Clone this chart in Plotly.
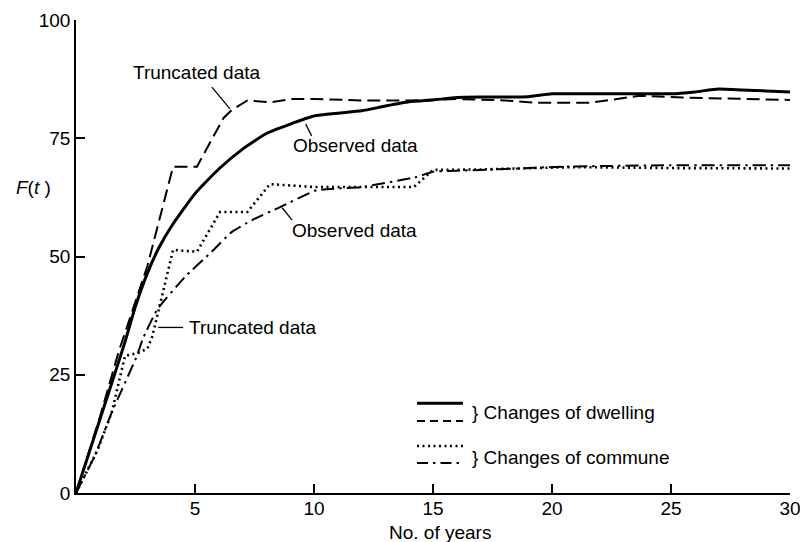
import plotly.graph_objects as go

# ---- data ----
# Changes of dwelling, observed (solid)
dw_obs_x = [0, 1, 2, 2.5, 3, 3.5, 4, 5, 6, 7, 8, 9, 10, 11, 12, 13, 14, 15, 16, 17, 18, 19, 20, 21, 22, 23, 24, 25, 26, 27, 28, 29, 30]
dw_obs_y = [0, 15.5, 31, 39.5, 46.5, 52, 56.3, 63.3, 68.5, 72.7, 76, 78, 79.7, 80.3, 80.8, 81.8, 82.7, 83.1, 83.6, 83.7, 83.7, 83.8, 84.4, 84.4, 84.4, 84.4, 84.4, 84.4, 84.8, 85.4, 85.2, 85.0, 84.8]

# Changes of dwelling, truncated (dashed)
dw_tr_x = [0, 1, 1.8, 3, 4.08, 5.08, 6.2, 6.55, 7.2, 8.2, 9.1, 10, 12, 14, 16, 18, 19.4, 21.6, 23.7, 25.5, 30]
dw_tr_y = [0, 16, 30, 48, 69, 69, 79.3, 81, 83, 82.6, 83.3, 83.3, 83, 83, 83.3, 83, 82.5, 82.5, 84, 83.6, 83.1]

# Changes of commune, truncated (dotted)
cm_tr_x = [0, 0.9, 1.5, 2.06, 2.6, 3.0, 3.2, 3.66, 4.08, 5.08, 6.05, 7.2, 8.15, 10, 12, 14.2, 15, 17, 20, 21, 25, 30]
cm_tr_y = [0, 9, 17, 29, 29.6, 30.5, 33, 42.3, 51.4, 51, 59.4, 59.4, 65.3, 64.7, 64.7, 64.7, 68.3, 68.4, 68.8, 68.9, 68.7, 68.6]

# Changes of commune, observed (dash-dot)
cm_obs_x = [0, 0.8, 1.5, 2.56, 2.8, 3.4, 4.58, 5.7, 6.55, 7.4, 8.6, 10.1, 12, 14.3, 15, 17, 20.5, 25, 30]
cm_obs_y = [0, 8, 17, 29, 32.5, 38.7, 45.7, 51, 55.2, 57.7, 60.5, 64, 64.7, 66.8, 67.9, 68.3, 69, 69.3, 69.3]

x_ticks = [5, 10, 15, 20, 25, 30]
y_ticks = [0, 25, 50, 75, 100]

FONT = "Liberation Sans, Arial, sans-serif"
FS = 19

fig = go.Figure()
fig.add_trace(go.Scatter(x=dw_obs_x, y=dw_obs_y, mode="lines",
                         line=dict(color="black", width=3, shape="spline", smoothing=0.5),
                         showlegend=False))
fig.add_trace(go.Scatter(x=dw_tr_x, y=dw_tr_y, mode="lines",
                         line=dict(color="black", width=2, dash="13px,6px"), showlegend=False))
fig.add_trace(go.Scatter(x=cm_tr_x, y=cm_tr_y, mode="lines",
                         line=dict(color="black", width=2.6, dash="2px,3.5px"), showlegend=False))
fig.add_trace(go.Scatter(x=cm_obs_x, y=cm_obs_y, mode="lines",
                         line=dict(color="black", width=2, dash="13px,5px,2.5px,5px",
                                   shape="spline", smoothing=0.4),
                         showlegend=False))

# ---- labels with leader lines (data coords) ----
labels = [
    dict(text="Truncated data", x=2.3, y=88.8, lx0=5.71, ly0=85.8, lx1=6.47, ly1=81.2),
    dict(text="Observed data", x=9.05, y=73.4, lx0=9.65, ly0=78.0, lx1=9.9, ly1=75.5),
    dict(text="Observed data", x=9.0, y=55.6, lx0=8.66, ly0=60.3, lx1=9.08, ly1=57.7),
    dict(text="Truncated data", x=4.65, y=35.0, lx0=3.45, ly0=35.0, lx1=4.5, ly1=35.0),
]
annotations = []
shapes = []
for lb in labels:
    annotations.append(dict(x=lb["x"], y=lb["y"], xref="x", yref="y", text=lb["text"],
                            showarrow=False, xanchor="left", yanchor="middle",
                            font=dict(family=FONT, size=FS, color="black")))
    shapes.append(dict(type="line", xref="x", yref="y", x0=lb["lx0"], y0=lb["ly0"],
                       x1=lb["lx1"], y1=lb["ly1"], line=dict(color="black", width=1.3)))

# ---- manual legend ----
leg_x0, leg_x1 = 0.4776, 0.542
legend_lines = [
    (0.190, dict(color="black", width=3)),
    (0.152, dict(color="black", width=2, dash="8px,5px")),
    (0.0994, dict(color="black", width=2.4, dash="2px,3.5px")),
    (0.0634, dict(color="black", width=2, dash="11px,5px,2.5px,5px")),
]
for yy, ln in legend_lines:
    shapes.append(dict(type="line", xref="paper", yref="paper", x0=leg_x0, x1=leg_x1,
                       y0=yy, y1=yy, line=ln))
annotations.append(dict(x=0.552, y=0.171, xref="paper", yref="paper",
                        text="} Changes of dwelling", showarrow=False, xanchor="left",
                        yanchor="middle", font=dict(family=FONT, size=FS, color="black")))
annotations.append(dict(x=0.552, y=0.076, xref="paper", yref="paper",
                        text="} Changes of commune", showarrow=False, xanchor="left",
                        yanchor="middle", font=dict(family=FONT, size=FS, color="black")))

# axis titles
annotations.append(dict(x=0.51, y=-0.084, xref="paper", yref="paper", text="No. of years",
                        showarrow=False, xanchor="center", yanchor="middle",
                        font=dict(family=FONT, size=FS, color="black")))
annotations.append(dict(x=-0.06, y=0.645, xref="paper", yref="paper",
                        text="<i>F</i>(<i>t</i> )", showarrow=False, xanchor="center",
                        yanchor="middle", font=dict(family=FONT, size=FS, color="black")))

fig.update_layout(
    width=800, height=542,
    margin=dict(l=76, r=10, t=20, b=49, autoexpand=False),
    paper_bgcolor="white", plot_bgcolor="white",
    font=dict(family=FONT, size=FS, color="black"),
    showlegend=False,
    annotations=annotations,
    shapes=shapes,
    xaxis=dict(range=[0, 30], tickvals=x_ticks, ticks="inside", ticklen=9, tickwidth=1.5,
               tickcolor="black", showline=True, linecolor="black", linewidth=1.5,
               showgrid=False, zeroline=False, ticklabeloverflow="allow", automargin=False,
               ticklabelstandoff=-3, tickfont=dict(family=FONT, size=FS)),
    yaxis=dict(range=[0, 100], tickvals=y_ticks, ticks="inside", ticklen=9, tickwidth=1.5,
               tickcolor="black", showline=True, linecolor="black", linewidth=1.5,
               showgrid=False, zeroline=False, ticklabeloverflow="allow", automargin=False,
               tickfont=dict(family=FONT, size=FS)),
)

fig.write_html("out.html")
